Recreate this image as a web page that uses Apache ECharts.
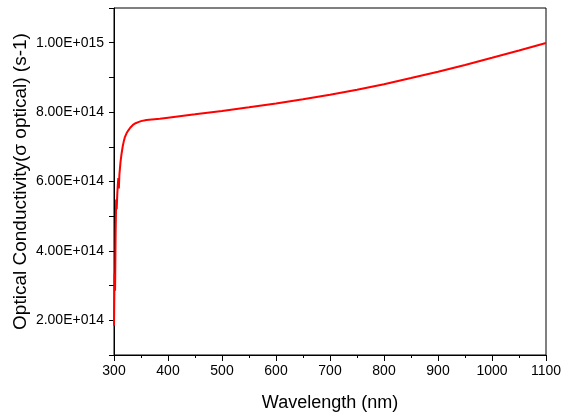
<!DOCTYPE html>
<html>
<head>
<meta charset="utf-8">
<script src="https://cdn.jsdelivr.net/npm/echarts@6/dist/echarts.min.js"></script>
<style>html,body{margin:0;padding:0;background:#fff}#c{width:563px;height:414px}</style>
</head>
<body>
<div id="c"></div>
<script>
// Wavelength (nm)
var wavelength = [300,301,302,303,304,305,306,307,308,309,310,312,314,316,318,320,323,326,330,335,340,345,350,360,370,385,400,450,500,550,600,650,700,750,800,850,900,950,1000,1050,1100];
// Optical conductivity (units of 1e14 s-1)
var conductivity = [1.84,3.35,2.85,4.50,5.48,5.20,5.60,5.90,6.10,5.80,6.20,6.55,6.80,7.00,7.15,7.27,7.38,7.46,7.55,7.63,7.68,7.71,7.74,7.77,7.79,7.81,7.84,7.935,8.035,8.14,8.25,8.37,8.50,8.645,8.805,8.98,9.165,9.36,9.565,9.775,9.99];
var xTicks = [300,400,500,600,700,800,900,1000,1100];
var yScale = 1e14;

var seriesData = wavelength.map(function(w,i){ return [w, conductivity[i]*yScale]; });

function fmtE(v){
  var m = Math.round(v/1e14);
  if (m % 2 !== 0) return '';
  var exp = Math.floor(Math.log10(m*1e14) + 1e-9);
  var mant = (m*1e14)/Math.pow(10,exp);
  var e = String(exp); while (e.length < 3) e = '0' + e;
  return mant.toFixed(2) + 'E+' + e;
}

var chart = echarts.init(document.getElementById('c'), null, {renderer:'canvas'});
var font = 'Liberation Sans, Arial, sans-serif';
chart.setOption({
  animation:false,
  backgroundColor:'#fff',
  grid:{left:114,right:17,top:8,bottom:59,containLabel:false,outerBoundsMode:'none',show:true,borderColor:'#000',borderWidth:1,backgroundColor:'transparent'},
  xAxis:{
    type:'value',min:300,max:1100,interval:100,
    name:'Wavelength (nm)',nameLocation:'middle',nameGap:39,nameMoveOverlap:false,
    nameTextStyle:{fontFamily:font,fontSize:18,color:'#000'},
    axisLine:{show:true,lineStyle:{color:'#000',width:1}},
    axisTick:{show:true,inside:false,length:6,lineStyle:{color:'#000'}},
    minorTick:{show:true,splitNumber:2,length:3,lineStyle:{color:'#000'}},
    axisLabel:{fontFamily:font,fontSize:14,color:'#000',margin:9,
      formatter:function(v){ return xTicks.indexOf(Math.round(v))>=0 ? String(Math.round(v)) : ''; }},
    splitLine:{show:false}
  },
  yAxis:{
    type:'value',min:1e14,max:1.1e15,interval:1e14,
    name:'Optical Conductivity(σ optical) (s-1)',nameLocation:'middle',nameGap:84,nameMoveOverlap:false,
    nameTextStyle:{fontFamily:font,fontSize:19,color:'#000'},
    axisLine:{show:true,lineStyle:{color:'#000',width:1}},
    axisTick:{show:true,inside:false,length:5,lineStyle:{color:'#000'}},
    axisLabel:{fontFamily:font,fontSize:14,color:'#000',margin:10,formatter:fmtE},
    splitLine:{show:false}
  },
  series:[{
    type:'line',data:seriesData,showSymbol:false,smooth:false,
    lineStyle:{color:'#ff0000',width:2},
    itemStyle:{color:'#ff0000'}
  }]
});
</script>
</body>
</html>
